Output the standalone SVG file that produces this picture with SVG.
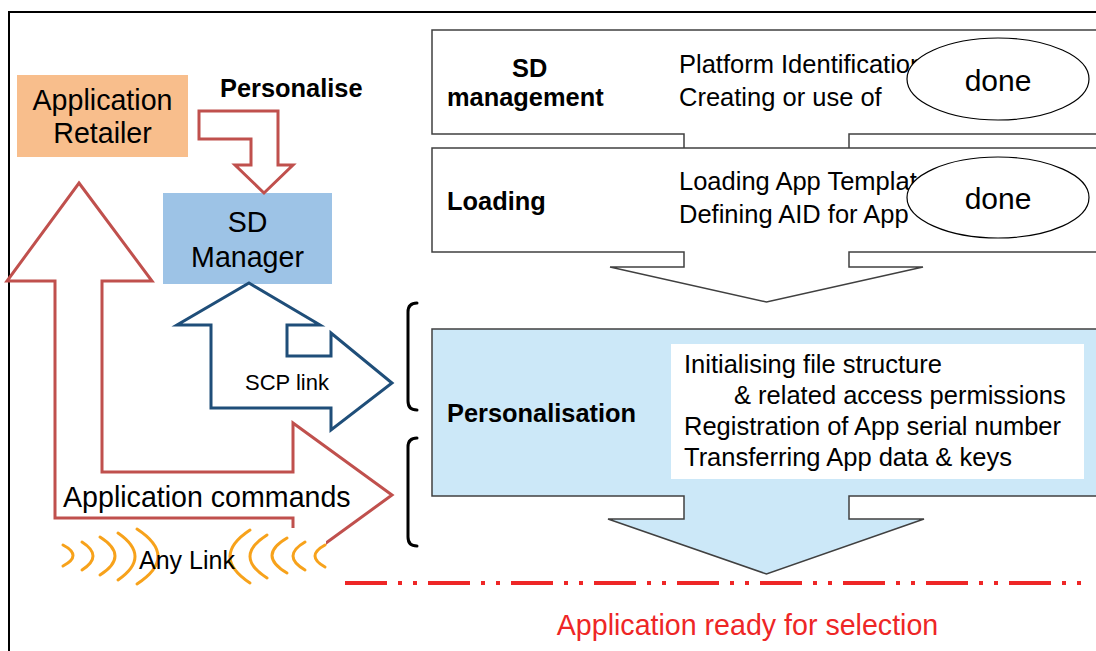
<svg xmlns="http://www.w3.org/2000/svg" width="1096" height="651" viewBox="0 0 1096 651">
  <style>
    text { font-family: "Liberation Sans", Arial, sans-serif; fill: #000; }
    .lbl { font-size: 28.6px; }
    .bold { font-size: 25.4px; font-weight: bold; }
    .item { font-size: 25.5px; }
    .done { font-size: 30px; }
    .stage { stroke: #404040; stroke-width: 1.5; stroke-linejoin: miter; }
    .red-arrow { fill: #fff; stroke: #C0504D; stroke-width: 3; stroke-linejoin: miter; }
    .blue-arrow { fill: #fff; stroke: #1F4E79; stroke-width: 3; stroke-linejoin: miter; }
    .brace { fill: none; stroke: #000; stroke-width: 3; stroke-linecap: round; }
    .wave { fill: none; stroke: #F7A21B; stroke-width: 3; stroke-linecap: round; }
    .badge { fill: #fff; stroke: #000; stroke-width: 1.2; }
  </style>

  <!-- frame -->
  <path d="M9 651 V12 H1096" fill="none" stroke="#000" stroke-width="2"/>

  <!-- lifecycle stages -->
  <g id="stage-sd-management">
    <path class="stage" fill="#fff" d="M432 30 H1100 V134 H849 V150 H684 V134 H432 Z"/>
    <text class="bold" x="512" y="77">SD</text>
    <text class="bold" x="447" y="106">management</text>
    <text class="item" x="679" y="73">Platform Identification</text>
    <text class="item" x="679" y="106">Creating or use of</text>
    <ellipse class="badge" cx="998" cy="79" rx="91" ry="41"/>
    <text class="done" x="998" y="91" text-anchor="middle">done</text>
  </g>

  <g id="stage-loading">
    <path class="stage" fill="#fff" d="M432 148 H1100 V252 H849 V267 H923 L766.5 302 L610 267 H684 V252 H432 Z"/>
    <text class="bold" x="447" y="210">Loading</text>
    <text class="item" x="679" y="190">Loading App Template</text>
    <text class="item" x="679" y="223">Defining AID for App</text>
    <ellipse class="badge" cx="998" cy="197.5" rx="91" ry="40.5"/>
    <text class="done" x="998" y="209" text-anchor="middle">done</text>
  </g>

  <g id="stage-personalisation">
    <path class="stage" fill="#CCE8F8" d="M432 329 H1100 V496 H849 V519 H924 L766.5 574 L608 519 H684 V496 H432 Z"/>
    <text class="bold" x="447" y="422">Personalisation</text>
    <rect x="671" y="344" width="413" height="135" fill="#fff"/>
    <text class="item" x="684" y="373">Initialising file structure</text>
    <text class="item" x="734" y="404">&amp; related access permissions</text>
    <text class="item" x="684" y="435">Registration of App serial number</text>
    <text class="item" x="684" y="466">Transferring App data &amp; keys</text>
  </g>

  <!-- braces grouping the personalisation channels -->
  <g id="braces">
    <path class="brace" d="M417 303 Q408 303 408 312 V401 Q408 410 417 410"/>
    <path class="brace" d="M417 438 Q408 438 408 447 V537 Q408 546 417 546"/>
  </g>

  <!-- actors -->
  <g id="node-retailer">
    <rect x="17" y="75" width="171" height="82" fill="#F8BE8C"/>
    <text class="lbl" x="102.5" y="110" text-anchor="middle">Application</text>
    <text class="lbl" x="102.5" y="143" text-anchor="middle">Retailer</text>
  </g>

  <g id="node-sd-manager">
    <rect x="163" y="193" width="169" height="91" fill="#9DC3E6"/>
    <text class="lbl" x="247.5" y="232" text-anchor="middle">SD</text>
    <text class="lbl" x="247.5" y="267" text-anchor="middle">Manager</text>
  </g>

  <!-- block arrows -->
  <g id="connectors">
    <g id="edge-personalise">
      <path class="red-arrow" d="M199 111 H278 V165 H293 L264 193 L235 165 H251 V139 H199 Z"/>
      <text class="bold" x="220" y="97">Personalise</text>
    </g>
    <g id="edge-app-commands">
      <path class="red-arrow" d="M79 183 L152 281 H102 V472 H293 V423 L392 495 L293 567 V518 H55 V281 H7 Z"/>
      <text class="lbl" x="63" y="507">Application commands</text>
    </g>
    <g id="edge-scp-link">
      <path class="blue-arrow" d="M249 283 L320 325 H287 V356 H331 V333 L392 383 L331 430 V408 H211 V325 H177 Z"/>
      <text x="245" y="390" font-size="22">SCP link</text>
    </g>
  </g>

  <!-- radio link -->
  <g id="node-any-link">
    <rect x="40" y="528" width="286" height="62" fill="#fff"/>
    <path class="wave" d="M63 545 Q83 555.5 63 566"/>
    <path class="wave" d="M82 542 Q104 556 82 570"/>
    <path class="wave" d="M100 537 Q130 556 100 575"/>
    <path class="wave" d="M118 533 Q152 556.5 118 580"/>
    <path class="wave" d="M137 529 Q179 556.5 137 584"/>
    <path class="wave" d="M250 530 Q210 556.5 250 583"/>
    <path class="wave" d="M267 535 Q233 556.5 267 578"/>
    <path class="wave" d="M287 538 Q257 555.5 287 573"/>
    <path class="wave" d="M305 542 Q281 556 305 570"/>
    <path class="wave" d="M325 545 Q305 556 325 567"/>
    <text x="139" y="569" font-size="25">Any Link</text>
  </g>

  <!-- ready milestone -->
  <g id="milestone">
    <line x1="345" y1="583" x2="1082" y2="583" stroke="#EE2626" stroke-width="4" stroke-dasharray="42 11 4 11 4 11"/>
    <text x="747.5" y="635" font-size="28.6" text-anchor="middle" style="fill:#EE2626">Application ready for selection</text>
  </g>
</svg>
